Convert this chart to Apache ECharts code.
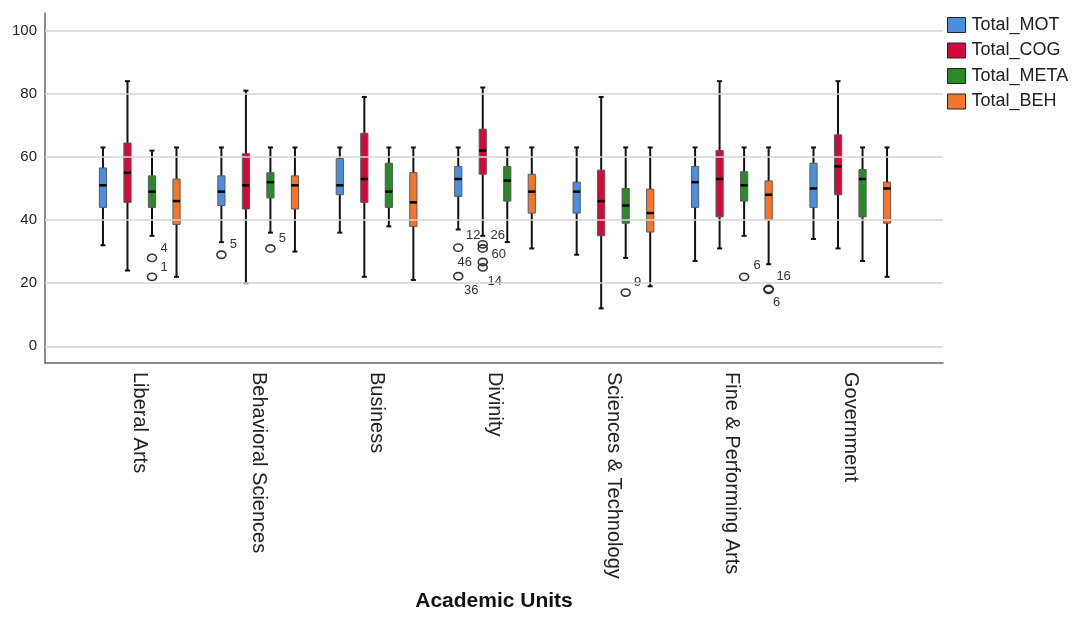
<!DOCTYPE html>
<html>
<head>
<meta charset="utf-8">
<script src="https://cdn.jsdelivr.net/npm/echarts@6/dist/echarts.min.js"></script>
<style>html,body{margin:0;padding:0;background:#fff;}#c{width:1078px;height:617px;}</style>
</head>
<body>
<div id="c"></div>
<script>
// ---------- data ----------
const categories = ['Liberal Arts','Behavioral Sciences','Business','Divinity','Sciences & Technology','Fine & Performing Arts','Government'];
const seriesNames = ['Total_MOT','Total_COG','Total_META','Total_BEH'];
const yTicks = [0,20,40,60,80,100];
// [min whisker, Q1, median, Q3, max whisker] per category
const motBox = [
  [32,44,51,56.5,63],[33,44.6,49,54,63],[36,48,51,59.5,63],[37,47.5,53,57,63],
  [29,42.2,49,52,63],[27,44,52,57,63],[34,44,50,58,63]
];
const cogBox = [
  [24,45.6,55,64.4,84],[20,43.5,51,61,81],[22,45.6,53,67.5,79],[35,54.5,62,68.8,82],
  [12,35,46,55.8,79],[31,41,53,62,84],[31,48,57,67,84]
];
const metaBox = [
  [35,44,49,54,62],[36,47,52,55,63],[38,44,49,58,63],[33,46,52.5,57,63],
  [28,39,44.6,50,63],[35,46,51,55.3,63],[27,41,53,56,63]
];
const behBox = [
  [22,38.6,46,53,63],[30,43.5,51,54,63],[21,38,45.6,55,63],[31,42.2,49,54.5,63],
  [19,36.2,42.2,49.8,63],[26,40,48,52.4,63],[22,39,50,52,63]
];
// outliers: [category index, series index, value, case label]
const outliers = [
  [0,2,28,'4'],[0,2,22,'1'],
  [1,0,29,'5'],[1,2,31,'5'],
  [3,0,31.25,'12'],[3,0,22.2,'36'],
  [3,1,32.3,'26'],[3,1,31,'60'],[3,1,26.7,'46'],[3,1,25,'14'],
  [4,2,17,'9'],
  [5,2,22,'6'],[5,3,18.2,'16'],[5,3,17.9,'6']
];
// label placement (px offset from the circle), same order as outliers
const outlierLabelOffsets = [
  [12,-9],[12,-9],
  [12,-10],[12,-10],
  [15,-12],[13,14],
  [15,-9],[16,6],[-18,0],[12,14],
  [12,-10],
  [13,-11],[15,-12],[8,13]
];

// ---------- styling ----------
const colors = ['#4a8fdf','#d20a3c','#2a8a2a','#f3742a'];
const boxSets = [motBox, cogBox, metaBox, behBox];
const OFF = 0.207;   // offset between boxes inside a category (axis units)
const HALF_W = 3.6;  // half box width (px)
const FONT = '"Liberation Sans", Arial, sans-serif';

function boxRender(si) {
  return function (params, api) {
    const cat = api.value(0);
    const x = cat + (si - 1.5) * OFF;
    const pMin = api.coord([x, api.value(1)]);
    const pQ1 = api.coord([x, api.value(2)]);
    const pMed = api.coord([x, api.value(3)]);
    const pQ3 = api.coord([x, api.value(4)]);
    const pMax = api.coord([x, api.value(5)]);
    const cx = pMed[0];
    return {
      type: 'group',
      children: [
        {type:'line', shape:{x1:cx,y1:pMax[1],x2:cx,y2:pMin[1]}, style:{stroke:'#111',lineWidth:2}},
        {type:'line', shape:{x1:cx-2.5,y1:pMax[1],x2:cx+2.5,y2:pMax[1]}, style:{stroke:'#111',lineWidth:2}},
        {type:'line', shape:{x1:cx-2.5,y1:pMin[1],x2:cx+2.5,y2:pMin[1]}, style:{stroke:'#111',lineWidth:2}},
        {type:'rect', shape:{x:cx-HALF_W,y:pQ3[1],width:HALF_W*2,height:pQ1[1]-pQ3[1]},
         style:{fill:colors[si],stroke:'#5a5a5a',lineWidth:1}},
        {type:'line', shape:{x1:cx-HALF_W,y1:pMed[1],x2:cx+HALF_W,y2:pMed[1]}, style:{stroke:'#000',lineWidth:2.5}}
      ]
    };
  };
}

const boxSeries = seriesNames.map((name, si) => ({
  name: name,
  type: 'custom',
  z: 3,
  itemStyle: {color: colors[si]},
  renderItem: boxRender(si),
  encode: {x: 0, y: [1,2,3,4,5]},
  data: boxSets[si].map((b, ci) => [ci].concat(b))
}));

const outlierSeries = {
  name: 'outliers',
  type: 'custom',
  z: 4,
  renderItem: function (params, api) {
    const cat = api.value(0), si = api.value(1);
    const x = cat + (si - 1.5) * OFF;
    const p = api.coord([x, api.value(2)]);
    const off = outlierLabelOffsets[params.dataIndex];
    return {
      type: 'group',
      children: [
        {type:'ellipse', shape:{cx:p[0],cy:p[1],rx:4.5,ry:3.6}, style:{fill:'none',stroke:'#333',lineWidth:1.6}},
        {type:'text', x:p[0]+off[0], y:p[1]+off[1],
         style:{text:outliers[params.dataIndex][3], fill:'#333', font:'13px ' + FONT, align:'center', verticalAlign:'middle'}}
      ]
    };
  },
  encode: {x: 0, y: 2},
  data: outliers.map(o => [o[0], o[1], o[2]])
};

const gridSeries = {
  name: 'grid',
  type: 'line',
  z: 1,
  data: [],
  silent: true,
  markLine: {
    silent: true,
    symbol: 'none',
    animation: false,
    label: {show: false},
    lineStyle: {color: '#d4d4d4', width: 1.6, type: 'solid'},
    data: yTicks.map(v => ({yAxis: v}))
  }
};

const chart = echarts.init(document.getElementById('c'), null, {renderer: 'canvas'});
chart.setOption({
  animation: false,
  backgroundColor: '#fff',
  textStyle: {fontFamily: FONT},
  grid: {left: 45, right: 135, top: 13, bottom: 249, containLabel: false},
  legend: {
    data: seriesNames,
    orient: 'vertical',
    left: 947,
    top: 16,
    padding: 0,
    itemWidth: 18,
    itemHeight: 15,
    itemGap: 7.5,
    icon: 'rect',
    itemStyle: {borderColor: '#222', borderWidth: 1},
    textStyle: {fontSize: 18, color: '#222', fontFamily: FONT, padding: [0,0,0,1]}
  },
  xAxis: {
    type: 'value',
    min: -0.8,
    max: 6.783,
    axisLine: {show: true, onZero: false, lineStyle: {color: '#666', width: 1.5}},
    axisTick: {show: false},
    splitLine: {show: false},
    axisLabel: {
      customValues: [0,1,2,3,4,5,6],
      formatter: v => categories[Math.round(v)] || '',
      rotate: -90,
      margin: 9,
      fontSize: 20,
      color: '#222',
      fontFamily: FONT
    },
    name: 'Academic Units',
    nameLocation: 'middle',
    nameGap: 228,
    nameTextStyle: {fontSize: 21, fontWeight: 'bold', color: '#111', fontFamily: FONT}
  },
  yAxis: {
    type: 'value',
    min: -5.3,
    max: 105.6,
    axisLine: {show: true, onZero: false, lineStyle: {color: '#666', width: 1.5}},
    axisTick: {show: false},
    splitLine: {show: false},
    axisLabel: {
      customValues: yTicks,
      margin: 8,
      fontSize: 15,
      color: '#222',
      fontFamily: FONT
    }
  },
  series: [gridSeries].concat(boxSeries, [outlierSeries])
});
</script>
</body>
</html>
